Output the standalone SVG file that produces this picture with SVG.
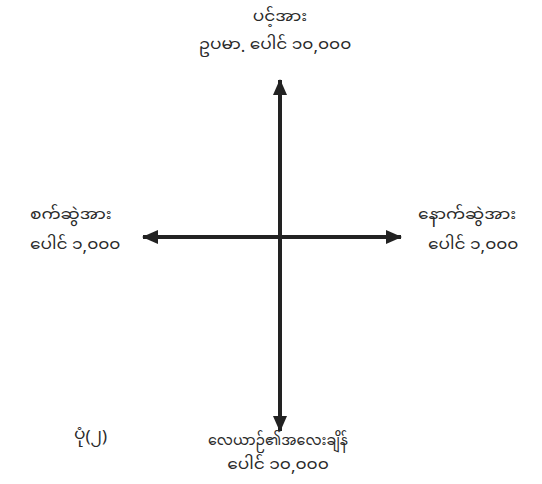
<svg xmlns="http://www.w3.org/2000/svg" width="542" height="484" viewBox="0 0 542 484">
<style>
text{font-family:"Noto Sans Myanmar UI","Noto Sans Myanmar","Padauk","Myanmar Text",sans-serif;font-size:17px;fill:#2a2a2a}
.c{text-anchor:middle}
.ax{stroke:#222;stroke-width:4;fill:none}
</style>
<defs>
<marker id="ah" viewBox="0 0 16 14" refX="15" refY="7" markerWidth="16" markerHeight="14" markerUnits="userSpaceOnUse" orient="auto">
<path d="M0,0 L16,7 L0,14 Z" fill="#222"/>
</marker>
</defs>
<rect width="542" height="484" fill="#fff"/>
<g id="connectors">
<line class="ax" x1="280" y1="237" x2="280" y2="80" marker-end="url(#ah)"/>
<line class="ax" x1="280" y1="237" x2="280" y2="431" marker-end="url(#ah)"/>
<line class="ax" x1="280" y1="237" x2="143" y2="237" marker-end="url(#ah)"/>
<line class="ax" x1="280" y1="237" x2="401" y2="237" marker-end="url(#ah)"/>
</g>
<g id="top">
<text class="c" x="280" y="24">ပင့်အား</text>
<text class="c" x="275" y="52">ဥပမာ. ပေါင် ၁၀,၀၀၀</text>
</g>
<g id="left">
<text x="30" y="222">စက်ဆွဲအား</text>
<text x="30" y="252">ပေါင် ၁,၀၀၀</text>
</g>
<g id="right">
<text x="418" y="222">နောက်ဆွဲအား</text>
<text x="428" y="252">ပေါင် ၁,၀၀၀</text>
</g>
<g id="bottom">
<text class="c" x="278" y="448" textLength="140" lengthAdjust="spacingAndGlyphs">လေယာဉ်၏အလေးချိန်</text>
<text class="c" x="278" y="472">ပေါင် ၁၀,၀၀၀</text>
</g>
<g id="caption">
<text x="74" y="442">ပုံ(၂)</text>
</g>
</svg>
